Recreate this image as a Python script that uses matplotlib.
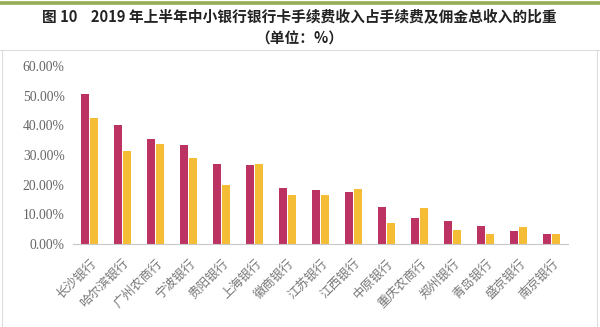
import matplotlib
matplotlib.use("Agg")
import matplotlib.pyplot as plt
import numpy as np
from matplotlib.lines import Line2D

plt.rcParams['font.family'] = ['Noto Sans CJK SC', 'DejaVu Sans']

categories = ["长沙银行", "哈尔滨银行", "广州农商行", "宁波银行", "贵阳银行", "上海银行",
              "徽商银行", "江苏银行", "江西银行", "中原银行", "重庆农商行", "郑州银行",
              "青岛银行", "盛京银行", "南京银行"]
series_a = [50.4, 40.0, 35.3, 33.3, 27.1, 26.6, 18.8, 18.1, 17.6, 12.4, 8.9, 7.8, 6.1, 4.4, 3.3]
series_b = [42.4, 31.3, 33.7, 29.0, 19.9, 27.0, 16.4, 16.4, 18.5, 7.0, 12.0, 4.7, 3.4, 5.6, 3.3]
yticks = [0, 10, 20, 30, 40, 50, 60]
ytick_labels = ["0.00%", "10.00%", "20.00%", "30.00%", "40.00%", "50.00%", "60.00%"]

W, H = 600, 327
fig = plt.figure(figsize=(W / 100, H / 100), dpi=100)

# top green band
fig.add_artist(Line2D([0, 1], [1 - 2.5 / H, 1 - 2.5 / H], color="#97AC55", lw=2.6, transform=fig.transFigure))
# frame lines
grey = "#DDDDDD"
fig.add_artist(Line2D([0, 1], [1 - 50 / H, 1 - 50 / H], color=grey, lw=0.8, transform=fig.transFigure))
fig.add_artist(Line2D([2 / W, 2 / W], [0, 1 - 50 / H], color=grey, lw=0.8, transform=fig.transFigure))
fig.add_artist(Line2D([597 / W, 597 / W], [0, 1 - 50 / H], color=grey, lw=0.8, transform=fig.transFigure))

fig.text(0.499, 1 - 16 / H, "图 10    2019 年上半年中小银行银行卡手续费收入占手续费及佣金总收入的比重",
         ha="center", va="center", fontsize=10.6, fontweight="bold", color="#222222")
fig.text(0.499, 1 - 39 / H, "（单位：%）", ha="center", va="center", fontsize=10.6,
         fontweight="bold", color="#222222")

left, right = 73 / W, 568 / W
bottom, top = 1 - 244 / H, 1 - 66 / H
ax = fig.add_axes([left, bottom, right - left, top - bottom])

x = np.arange(len(categories))
w = 0.25
ax.bar(x - w / 2 - 0.01, series_a, width=w, color="#BC3363")
ax.bar(x + w / 2 + 0.01, series_b, width=w, color="#F5BD36")

ax.set_xlim(-0.5, len(categories) - 0.5)
ax.set_ylim(0, 60)
ax.set_yticks(yticks)
ax.set_yticklabels(ytick_labels, fontfamily="Liberation Serif", fontsize=9.8, color="#666666")
ax.set_xticks(x)
ax.set_xticklabels(categories, rotation=45, ha="right", rotation_mode="anchor",
                   fontsize=9, color="#777777")
ax.tick_params(axis="both", length=0)
ax.tick_params(axis="y", pad=6)
ax.tick_params(axis="x", pad=9)
for s in ["top", "right", "left"]:
    ax.spines[s].set_visible(False)
ax.spines["bottom"].set_color("#C8C8C8")
ax.spines["bottom"].set_linewidth(0.8)

fig.savefig("out.png", dpi=100, facecolor="white")
